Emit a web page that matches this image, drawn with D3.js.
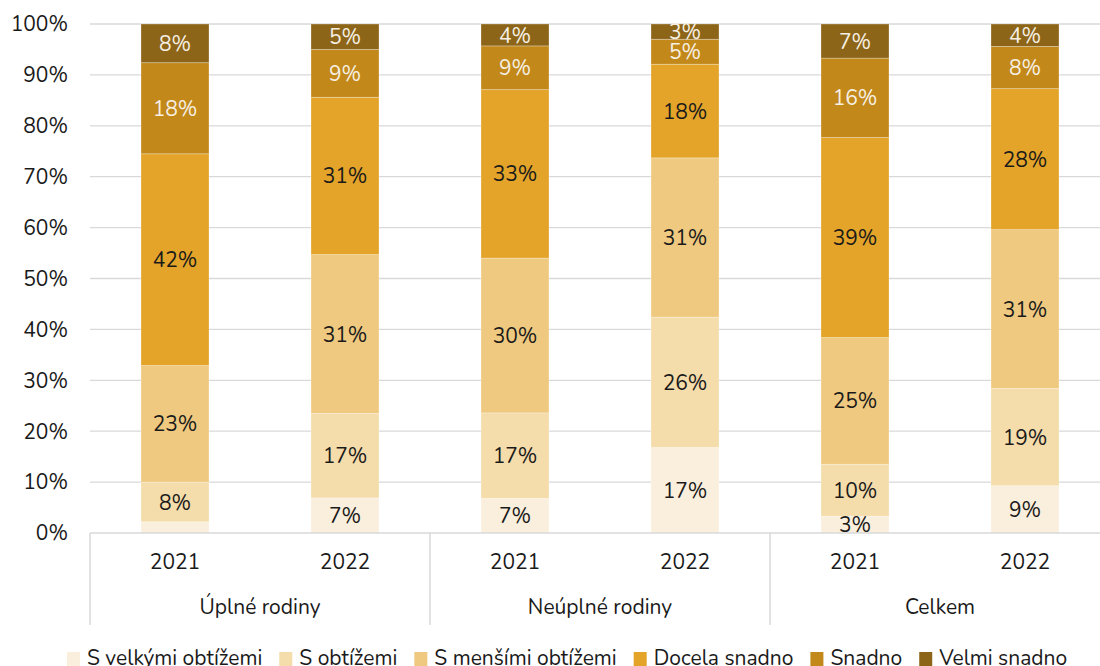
<!DOCTYPE html>
<html><head><meta charset="utf-8">
<script src="https://cdn.jsdelivr.net/npm/d3@7/dist/d3.min.js"></script>
<style>
html,body{margin:0;padding:0;background:#fff;}
svg{display:block;font-family:"Nunito","Lato","Open Sans",sans-serif;}
</style></head>
<body><svg id="chart" width="1100" height="666"></svg>
<script>
const groups = ["Úplné rodiny", "Neúplné rodiny", "Celkem"];
const years = ["2021", "2022"];
const seriesNames = ["S velkými obtížemi", "S obtížemi", "S menšími obtížemi", "Docela snadno", "Snadno", "Velmi snadno"];
// values per series, in order: Úplné 2021, Úplné 2022, Neúplné 2021, Neúplné 2022, Celkem 2021, Celkem 2022 (%)
const sVelkymi   = [2.2, 6.9, 6.8, 16.8, 3.3, 9.3];
const sObtizemi  = [7.8, 16.6, 16.8, 25.6, 10.2, 19.1];
const sMensimi   = [22.9, 31.2, 30.4, 31.3, 24.9, 31.2];
const docela     = [41.6, 30.9, 33.1, 18.4, 39.3, 27.7];
const snadno     = [17.9, 9.4, 8.6, 4.9, 15.6, 8.3];
const velmi      = [7.6, 5.0, 4.3, 3.0, 6.7, 4.4];
const yTicks = [0, 10, 20, 30, 40, 50, 60, 70, 80, 90, 100];
const colors = ["#faefdc", "#f5dcab", "#efc97f", "#e4a429", "#c28819", "#8c6518"];
const labelColors = ["#1a1a1a", "#1a1a1a", "#1a1a1a", "#1a1a1a", "#f6efe2", "#f6efe2"];

const seriesVals = [sVelkymi, sObtizemi, sMensimi, docela, snadno, velmi];
const bars = [];
groups.forEach((g, gi) => years.forEach((yr, yi) => {
  const idx = gi * 2 + yi;
  const row = {key: g + "|" + yr, group: g, year: yr};
  seriesNames.forEach((s, si) => row[s] = seriesVals[si][idx]);
  bars.push(row);
}));

const FS = 21;
const svg = d3.select("#chart");
const mLeft = 90, mRight = 1110, mTop = 24, mBottom = 533;
const x = d3.scaleBand().domain(bars.map(d => d.key)).range([mLeft, mRight]).paddingInner(0.6).paddingOuter(0.3);
const xg = d3.scaleBand().domain(groups).range([mLeft, mRight]);
const y = d3.scaleLinear().domain([0, 100]).range([mBottom, mTop]);

// gridlines
svg.append("g").selectAll("line").data(yTicks.filter(t => t > 0)).join("line")
  .attr("x1", mLeft).attr("x2", 1100).attr("y1", d => y(d)).attr("y2", d => y(d))
  .attr("stroke", "#d9d9d9").attr("stroke-width", 1.3);

// y axis labels
svg.append("g").selectAll("text").data(yTicks).join("text")
  .attr("x", 68).attr("y", d => y(d)).attr("dy", "0.35em")
  .attr("text-anchor", "end").attr("font-size", FS).attr("fill", "#1a1a1a")
  .text(d => d + "%");

// stacked bars
const stack = d3.stack().keys(seriesNames)(bars);
const layers = svg.append("g").selectAll("g").data(stack).join("g")
  .attr("fill", (d, i) => colors[i]);
layers.selectAll("rect").data(d => d).join("rect")
  .attr("x", d => x(d.data.key)).attr("width", x.bandwidth())
  .attr("y", d => y(d[1])).attr("height", d => y(d[0]) - y(d[1]))
  .attr("stroke", "rgba(255,255,255,0.35)").attr("stroke-width", 0.8);

// labels
stack.forEach((layer, li) => {
  svg.append("g").selectAll("text").data(layer.filter(d => d[1] - d[0] >= 2.5)).join("text")
    .attr("x", d => x(d.data.key) + x.bandwidth() / 2)
    .attr("y", d => (y(d[0]) + y(d[1])) / 2).attr("dy", "0.36em")
    .attr("text-anchor", "middle").attr("font-size", FS)
    .attr("fill", labelColors[li])
    .text(d => Math.round(d[1] - d[0]) + "%");
});

// x axis
const axisColor = "#d9d9d9";
svg.append("line").attr("x1", mLeft).attr("x2", 1100).attr("y1", mBottom).attr("y2", mBottom)
  .attr("stroke", axisColor).attr("stroke-width", 1.5);
svg.append("g").selectAll("line").data(groups.concat(["end"])).join("line")
  .attr("x1", (d, i) => mLeft + i * xg.step()).attr("x2", (d, i) => mLeft + i * xg.step())
  .attr("y1", mBottom).attr("y2", 625)
  .attr("stroke", axisColor).attr("stroke-width", 1.5);
svg.append("g").selectAll("text").data(bars).join("text")
  .attr("x", d => x(d.key) + x.bandwidth() / 2).attr("y", 569)
  .attr("text-anchor", "middle").attr("font-size", FS).attr("fill", "#1a1a1a")
  .text(d => d.year);
svg.append("g").selectAll("text").data(groups).join("text")
  .attr("x", d => xg(d) + xg.bandwidth() / 2).attr("y", 614)
  .attr("text-anchor", "middle").attr("font-size", FS).attr("fill", "#1a1a1a")
  .text(d => d);

// legend
const leg = svg.append("g");
let lx = 67;
seriesNames.forEach((s, i) => {
  leg.append("rect").attr("x", lx).attr("y", 652).attr("width", 13).attr("height", 14).attr("fill", colors[i]);
  const t = leg.append("text").attr("x", lx + 20).attr("y", 665)
    .attr("font-size", FS).attr("fill", "#1a1a1a").text(s);
  lx += 20 + t.node().getComputedTextLength() + 17;
});
</script></body></html>
